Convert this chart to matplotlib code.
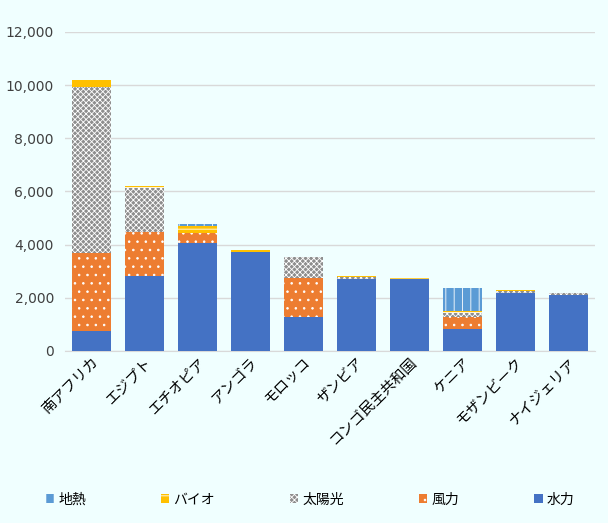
import matplotlib
matplotlib.use("Agg")
import matplotlib.pyplot as plt
import numpy as np

plt.rcParams['font.family'] = ['Noto Sans CJK JP', 'DejaVu Sans']
plt.rcParams['hatch.linewidth'] = 0.6

countries = ["南アフリカ", "エジプト", "エチオピア", "アンゴラ", "モロッコ",
             "ザンビア", "コンゴ民主共和国", "ケニア", "モザンビーク", "ナイジェリア"]
hydro = [750, 2830, 4060, 3730, 1280, 2700, 2710, 830, 2190, 2110]
wind = [2950, 1640, 370, 0, 1460, 0, 0, 460, 0, 0]
solar = [6240, 1650, 20, 0, 780, 70, 0, 150, 60, 70]
bio = [250, 75, 250, 60, 25, 40, 40, 60, 40, 15]
geo = [0, 0, 75, 0, 0, 0, 0, 860, 0, 0]

series = [
    ("水力", hydro, "#4472C4", None),
    ("風力", wind, "#ED7D31", ".."),
    ("太陽光", solar, "#8E8E8E", "xxxxxx"),
    ("バイオ", bio, "#FFC000", "--"),
    ("地熱", geo, "#5B9BD5", "||"),
]

bg = "#F0FFFF"
fig = plt.figure(figsize=(6.08, 5.23), dpi=100, facecolor=bg)
ax = fig.add_axes([0.107, 0.329, 0.872, 0.61], facecolor=bg)

x = np.arange(len(countries))
bottom = np.zeros(len(countries))
handles = {}
for name, vals, col, hatch in series:
    v = np.array(vals, dtype=float)
    b = ax.bar(x, v, 0.74, bottom=bottom, color=col, hatch=hatch,
               edgecolor="white" if hatch else col, linewidth=0, label=name, zorder=3)
    handles[name] = b
    bottom += v

ax.set_ylim(0, 12000)
ax.set_xlim(-0.5, len(countries) - 0.5)
ax.set_yticks(np.arange(0, 12001, 2000))
ax.set_yticklabels([f"{v:,}" for v in range(0, 12001, 2000)], fontsize=10, color="#404040",
                   family=['DejaVu Sans'])
ax.yaxis.grid(True, color="#D9D9D9", linewidth=1, zorder=0)
ax.tick_params(axis='y', length=0, pad=8)
ax.tick_params(axis='x', length=0, pad=3)
ax.set_xticks(x)
ax.set_xticklabels(countries, rotation=45, ha='right', rotation_mode='anchor', fontsize=10.5)
for s in ["top", "right", "left"]:
    ax.spines[s].set_visible(False)
ax.spines["bottom"].set_color("#D9D9D9")

order = ["地熱", "バイオ", "太陽光", "風力", "水力"]
fig.legend([handles[n] for n in order], order, loc="center", bbox_to_anchor=(0.51, 0.045),
           ncol=5, frameon=False, fontsize=10, handlelength=0.6, handleheight=0.6,
           columnspacing=5.4, handletextpad=0.3)

fig.savefig("out.png", dpi=100, facecolor=bg)
